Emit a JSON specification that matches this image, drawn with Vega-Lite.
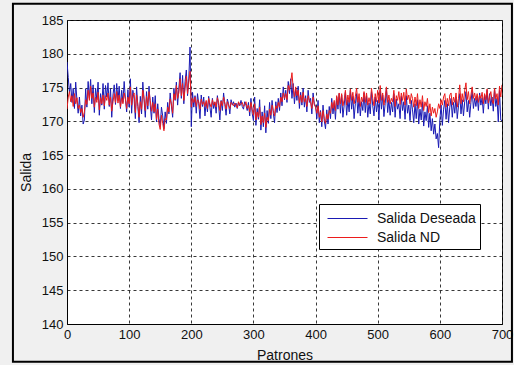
{
  "$schema": "https://vega.github.io/schema/vega-lite/v6.json",
  "width": 435,
  "height": 304,
  "autosize": {"type": "none"},
  "padding": {"left": 67, "top": 20, "right": 12, "bottom": 41},
  "background": "#f0f0f0",
  "config": {
    "font": "Liberation Sans",
    "view": {"fill": "white", "stroke": "black", "strokeWidth": 1},
    "axis": {
      "labelFont": "Liberation Sans",
      "titleFont": "Liberation Sans",
      "labelFontSize": 13,
      "titleFontSize": 14,
      "titleFontWeight": "normal",
      "labelColor": "#111",
      "titleColor": "#111",
      "domainColor": "black",
      "ticks": false,
      "labelFlush": false,
      "labelOverlap": false,
      "gridColor": "#222",
      "gridDash": [3, 3],
      "gridOpacity": 0.9,
      "gridWidth": 1
    }
  },
  "datasets": {
    "series": [
{"p":0,"Salida Deseada":178.8,"Salida ND":171.8},{"p":2,"Salida Deseada":176.5,"Salida ND":173.6},{"p":4,"Salida Deseada":174.2,"Salida ND":174.4},{"p":6,"Salida Deseada":175.6,"Salida ND":172.9},{"p":8,"Salida Deseada":172.8,"Salida ND":173.8},{"p":10,"Salida Deseada":174.9,"Salida ND":172.2},{"p":12,"Salida Deseada":171.9,"Salida ND":174.1},{"p":14,"Salida Deseada":175.8,"Salida ND":172.6},{"p":16,"Salida Deseada":173.1,"Salida ND":173.5},{"p":18,"Salida Deseada":171.2,"Salida ND":171.9},
{"p":20,"Salida Deseada":173.6,"Salida ND":172.4},{"p":22,"Salida Deseada":170.8,"Salida ND":171.3},{"p":24,"Salida Deseada":172.4,"Salida ND":171.9},{"p":26,"Salida Deseada":169.6,"Salida ND":170.6},{"p":28,"Salida Deseada":170.2,"Salida ND":171.4},{"p":30,"Salida Deseada":174.8,"Salida ND":173.2},{"p":32,"Salida Deseada":172.1,"Salida ND":172.5},{"p":34,"Salida Deseada":175.9,"Salida ND":174.6},{"p":36,"Salida Deseada":173.4,"Salida ND":173.1},{"p":38,"Salida Deseada":176.2,"Salida ND":175.2},
{"p":40,"Salida Deseada":172.6,"Salida ND":173.4},{"p":42,"Salida Deseada":175.4,"Salida ND":174.2},{"p":44,"Salida Deseada":171.3,"Salida ND":172.1},{"p":46,"Salida Deseada":174.9,"Salida ND":173.6},{"p":48,"Salida Deseada":173.2,"Salida ND":172.8},{"p":50,"Salida Deseada":175.8,"Salida ND":174.3},{"p":52,"Salida Deseada":170.9,"Salida ND":171.7},{"p":54,"Salida Deseada":174.1,"Salida ND":173.5},{"p":56,"Salida Deseada":172.4,"Salida ND":172.6},{"p":58,"Salida Deseada":175.6,"Salida ND":173.9},
{"p":60,"Salida Deseada":171.8,"Salida ND":172.3},{"p":62,"Salida Deseada":175.3,"Salida ND":173.8},{"p":64,"Salida Deseada":173.6,"Salida ND":173.1},{"p":66,"Salida Deseada":175.7,"Salida ND":174.2},{"p":68,"Salida Deseada":172.2,"Salida ND":172.4},{"p":70,"Salida Deseada":174.8,"Salida ND":173.6},{"p":72,"Salida Deseada":170.6,"Salida ND":171.5},{"p":74,"Salida Deseada":173.9,"Salida ND":172.9},{"p":76,"Salida Deseada":175.4,"Salida ND":174.1},{"p":78,"Salida Deseada":172.5,"Salida ND":172.8},
{"p":80,"Salida Deseada":175.6,"Salida ND":174.4},{"p":82,"Salida Deseada":173.1,"Salida ND":172.7},{"p":84,"Salida Deseada":175.2,"Salida ND":173.9},{"p":86,"Salida Deseada":171.9,"Salida ND":172.1},{"p":88,"Salida Deseada":174.6,"Salida ND":173.5},{"p":90,"Salida Deseada":172.8,"Salida ND":172.6},{"p":92,"Salida Deseada":175.9,"Salida ND":174.2},{"p":94,"Salida Deseada":173.3,"Salida ND":173.3},{"p":96,"Salida Deseada":171.4,"Salida ND":171.9},{"p":98,"Salida Deseada":174.7,"Salida ND":173.6},
{"p":100,"Salida Deseada":172.1,"Salida ND":172.6},{"p":102,"Salida Deseada":176.3,"Salida ND":175.1},{"p":104,"Salida Deseada":171.2,"Salida ND":172.4},{"p":106,"Salida Deseada":174.6,"Salida ND":173.8},{"p":108,"Salida Deseada":173.3,"Salida ND":174.2},{"p":110,"Salida Deseada":170.4,"Salida ND":171.3},{"p":112,"Salida Deseada":175.1,"Salida ND":173.9},{"p":114,"Salida Deseada":172.2,"Salida ND":172.5},{"p":116,"Salida Deseada":169.8,"Salida ND":170.6},{"p":118,"Salida Deseada":173.7,"Salida ND":172.9},
{"p":120,"Salida Deseada":171.1,"Salida ND":171.8},{"p":122,"Salida Deseada":175.8,"Salida ND":174.6},{"p":124,"Salida Deseada":173.2,"Salida ND":173.4},{"p":126,"Salida Deseada":170.6,"Salida ND":171.6},{"p":128,"Salida Deseada":174.4,"Salida ND":173.7},{"p":130,"Salida Deseada":171.8,"Salida ND":172.3},{"p":132,"Salida Deseada":175.2,"Salida ND":174.4},{"p":134,"Salida Deseada":172.4,"Salida ND":173.1},{"p":136,"Salida Deseada":170.2,"Salida ND":171.5},{"p":138,"Salida Deseada":173.6,"Salida ND":172.8},
{"p":140,"Salida Deseada":171.2,"Salida ND":171.4},{"p":142,"Salida Deseada":173.8,"Salida ND":172.6},{"p":144,"Salida Deseada":169.9,"Salida ND":170.3},{"p":146,"Salida Deseada":172.6,"Salida ND":171.8},{"p":148,"Salida Deseada":170.4,"Salida ND":169.6},{"p":150,"Salida Deseada":169.3,"Salida ND":168.8},{"p":152,"Salida Deseada":172.1,"Salida ND":170.9},{"p":154,"Salida Deseada":170.8,"Salida ND":169.7},{"p":156,"Salida Deseada":168.9,"Salida ND":168.6},{"p":158,"Salida Deseada":171.4,"Salida ND":170.4},
{"p":160,"Salida Deseada":169.7,"Salida ND":170.2},{"p":162,"Salida Deseada":172.8,"Salida ND":172.1},{"p":164,"Salida Deseada":171.1,"Salida ND":171.4},{"p":166,"Salida Deseada":174.2,"Salida ND":173.3},{"p":168,"Salida Deseada":172.3,"Salida ND":172.6},{"p":170,"Salida Deseada":170.6,"Salida ND":171.2},{"p":172,"Salida Deseada":174.9,"Salida ND":174.1},{"p":174,"Salida Deseada":173.1,"Salida ND":173.2},{"p":176,"Salida Deseada":175.8,"Salida ND":175.3},{"p":178,"Salida Deseada":172.4,"Salida ND":173.4},
{"p":180,"Salida Deseada":174.9,"Salida ND":174.2},{"p":182,"Salida Deseada":177.2,"Salida ND":176.3},{"p":184,"Salida Deseada":173.4,"Salida ND":173.8},{"p":186,"Salida Deseada":176.8,"Salida ND":175.6},{"p":188,"Salida Deseada":172.6,"Salida ND":173.1},{"p":190,"Salida Deseada":175.9,"Salida ND":174.8},{"p":192,"Salida Deseada":177.6,"Salida ND":176.7},{"p":194,"Salida Deseada":173.8,"Salida ND":174.1},{"p":196,"Salida Deseada":176.4,"Salida ND":175.8},{"p":198,"Salida Deseada":181.0,"Salida ND":177.4},
{"p":200,"Salida Deseada":169.2,"Salida ND":172.1},{"p":202,"Salida Deseada":174.3,"Salida ND":173.4},{"p":204,"Salida Deseada":172.1,"Salida ND":172.8},{"p":206,"Salida Deseada":173.8,"Salida ND":173.6},{"p":208,"Salida Deseada":171.2,"Salida ND":172.2},{"p":210,"Salida Deseada":174.1,"Salida ND":173.2},{"p":212,"Salida Deseada":172.6,"Salida ND":172.9},{"p":214,"Salida Deseada":170.4,"Salida ND":171.8},{"p":216,"Salida Deseada":173.9,"Salida ND":173.3},{"p":218,"Salida Deseada":172.2,"Salida ND":172.5},
{"p":220,"Salida Deseada":173.6,"Salida ND":172.9},{"p":222,"Salida Deseada":170.8,"Salida ND":172.2},{"p":224,"Salida Deseada":172.9,"Salida ND":173.1},{"p":226,"Salida Deseada":171.4,"Salida ND":171.9},{"p":228,"Salida Deseada":173.7,"Salida ND":173.4},{"p":230,"Salida Deseada":172.1,"Salida ND":172.6},{"p":232,"Salida Deseada":170.6,"Salida ND":172.1},{"p":234,"Salida Deseada":173.4,"Salida ND":173.2},{"p":236,"Salida Deseada":171.9,"Salida ND":172.4},{"p":238,"Salida Deseada":172.8,"Salida ND":172.9},
{"p":240,"Salida Deseada":171.2,"Salida ND":172.1},{"p":242,"Salida Deseada":173.8,"Salida ND":173.5},{"p":244,"Salida Deseada":172.3,"Salida ND":172.8},{"p":246,"Salida Deseada":170.2,"Salida ND":171.6},{"p":248,"Salida Deseada":173.1,"Salida ND":173.0},{"p":250,"Salida Deseada":171.6,"Salida ND":172.3},{"p":252,"Salida Deseada":174.2,"Salida ND":173.6},{"p":254,"Salida Deseada":172.5,"Salida ND":172.7},{"p":256,"Salida Deseada":170.9,"Salida ND":171.8},{"p":258,"Salida Deseada":173.3,"Salida ND":172.9},
{"p":260,"Salida Deseada":172.6,"Salida ND":172.4},{"p":262,"Salida Deseada":171.1,"Salida ND":171.9},{"p":264,"Salida Deseada":173.2,"Salida ND":172.8},{"p":266,"Salida Deseada":172.4,"Salida ND":172.6},{"p":268,"Salida Deseada":172.9,"Salida ND":172.3},{"p":270,"Salida Deseada":172.1,"Salida ND":172.7},{"p":272,"Salida Deseada":172.7,"Salida ND":172.5},{"p":274,"Salida Deseada":171.9,"Salida ND":172.0},{"p":276,"Salida Deseada":172.8,"Salida ND":172.9},{"p":278,"Salida Deseada":172.3,"Salida ND":172.4},
{"p":280,"Salida Deseada":173.1,"Salida ND":172.6},{"p":282,"Salida Deseada":172.2,"Salida ND":172.8},{"p":284,"Salida Deseada":171.8,"Salida ND":172.2},{"p":286,"Salida Deseada":172.9,"Salida ND":172.5},{"p":288,"Salida Deseada":172.4,"Salida ND":172.9},{"p":290,"Salida Deseada":171.6,"Salida ND":171.9},{"p":292,"Salida Deseada":172.8,"Salida ND":172.4},{"p":294,"Salida Deseada":170.8,"Salida ND":171.4},{"p":296,"Salida Deseada":173.4,"Salida ND":172.8},{"p":298,"Salida Deseada":171.2,"Salida ND":171.8},
{"p":300,"Salida Deseada":170.1,"Salida ND":170.9},{"p":302,"Salida Deseada":173.6,"Salida ND":172.6},{"p":304,"Salida Deseada":169.4,"Salida ND":170.2},{"p":306,"Salida Deseada":171.9,"Salida ND":171.4},{"p":308,"Salida Deseada":170.3,"Salida ND":170.6},{"p":310,"Salida Deseada":173.2,"Salida ND":172.1},{"p":312,"Salida Deseada":168.7,"Salida ND":169.5},{"p":314,"Salida Deseada":171.4,"Salida ND":170.8},{"p":316,"Salida Deseada":169.2,"Salida ND":169.8},{"p":318,"Salida Deseada":172.3,"Salida ND":171.2},
{"p":320,"Salida Deseada":168.3,"Salida ND":169.1},{"p":322,"Salida Deseada":171.6,"Salida ND":170.6},{"p":324,"Salida Deseada":169.7,"Salida ND":170.1},{"p":326,"Salida Deseada":172.8,"Salida ND":171.8},{"p":328,"Salida Deseada":170.4,"Salida ND":170.9},{"p":330,"Salida Deseada":173.1,"Salida ND":172.4},{"p":332,"Salida Deseada":171.2,"Salida ND":171.6},{"p":334,"Salida Deseada":169.8,"Salida ND":170.8},{"p":336,"Salida Deseada":172.9,"Salida ND":172.3},{"p":338,"Salida Deseada":171.3,"Salida ND":171.9},
{"p":340,"Salida Deseada":173.4,"Salida ND":172.8},{"p":342,"Salida Deseada":171.6,"Salida ND":172.1},{"p":344,"Salida Deseada":174.2,"Salida ND":173.6},{"p":346,"Salida Deseada":172.3,"Salida ND":172.9},{"p":348,"Salida Deseada":175.1,"Salida ND":174.2},{"p":350,"Salida Deseada":173.2,"Salida ND":173.4},{"p":352,"Salida Deseada":174.6,"Salida ND":174.1},{"p":354,"Salida Deseada":172.8,"Salida ND":173.2},{"p":356,"Salida Deseada":175.9,"Salida ND":175.3},{"p":358,"Salida Deseada":174.1,"Salida ND":174.6},
{"p":360,"Salida Deseada":176.3,"Salida ND":175.8},{"p":362,"Salida Deseada":173.4,"Salida ND":177.2},{"p":364,"Salida Deseada":175.6,"Salida ND":174.9},{"p":366,"Salida Deseada":172.6,"Salida ND":173.6},{"p":368,"Salida Deseada":174.8,"Salida ND":175.1},{"p":370,"Salida Deseada":173.1,"Salida ND":173.8},{"p":372,"Salida Deseada":175.2,"Salida ND":174.6},{"p":374,"Salida Deseada":171.9,"Salida ND":172.7},{"p":376,"Salida Deseada":174.3,"Salida ND":173.9},{"p":378,"Salida Deseada":172.4,"Salida ND":172.8},
{"p":380,"Salida Deseada":174.9,"Salida ND":174.3},{"p":382,"Salida Deseada":172.1,"Salida ND":172.9},{"p":384,"Salida Deseada":173.8,"Salida ND":173.4},{"p":386,"Salida Deseada":171.4,"Salida ND":172.2},{"p":388,"Salida Deseada":174.6,"Salida ND":173.8},{"p":390,"Salida Deseada":172.8,"Salida ND":173.1},{"p":392,"Salida Deseada":173.4,"Salida ND":172.8},{"p":394,"Salida Deseada":171.1,"Salida ND":171.9},{"p":396,"Salida Deseada":174.2,"Salida ND":173.6},{"p":398,"Salida Deseada":172.6,"Salida ND":172.4},
{"p":400,"Salida Deseada":172.3,"Salida ND":172.1},{"p":402,"Salida Deseada":170.4,"Salida ND":171.2},{"p":404,"Salida Deseada":173.1,"Salida ND":172.3},{"p":406,"Salida Deseada":169.8,"Salida ND":170.6},{"p":408,"Salida Deseada":171.6,"Salida ND":171.4},{"p":410,"Salida Deseada":169.2,"Salida ND":169.9},{"p":412,"Salida Deseada":172.4,"Salida ND":171.6},{"p":414,"Salida Deseada":170.1,"Salida ND":170.4},{"p":416,"Salida Deseada":168.9,"Salida ND":169.7},{"p":418,"Salida Deseada":171.7,"Salida ND":171.1},
{"p":420,"Salida Deseada":169.6,"Salida ND":170.3},{"p":422,"Salida Deseada":172.2,"Salida ND":171.6},{"p":424,"Salida Deseada":170.4,"Salida ND":171.2},{"p":426,"Salida Deseada":173.4,"Salida ND":172.8},{"p":428,"Salida Deseada":171.1,"Salida ND":171.9},{"p":430,"Salida Deseada":172.8,"Salida ND":173.1},{"p":432,"Salida Deseada":170.3,"Salida ND":171.6},{"p":434,"Salida Deseada":173.6,"Salida ND":173.8},{"p":436,"Salida Deseada":171.8,"Salida ND":172.4},{"p":438,"Salida Deseada":174.1,"Salida ND":174.2},
{"p":440,"Salida Deseada":171.2,"Salida ND":172.6},{"p":442,"Salida Deseada":173.9,"Salida ND":174.1},{"p":444,"Salida Deseada":170.6,"Salida ND":172.3},{"p":446,"Salida Deseada":172.4,"Salida ND":173.2},{"p":448,"Salida Deseada":174.3,"Salida ND":174.6},{"p":450,"Salida Deseada":170.9,"Salida ND":172.4},{"p":452,"Salida Deseada":173.2,"Salida ND":173.9},{"p":454,"Salida Deseada":171.4,"Salida ND":172.8},{"p":456,"Salida Deseada":174.6,"Salida ND":174.8},{"p":458,"Salida Deseada":171.8,"Salida ND":173.1},
{"p":460,"Salida Deseada":173.7,"Salida ND":174.3},{"p":462,"Salida Deseada":170.4,"Salida ND":172.6},{"p":464,"Salida Deseada":172.6,"Salida ND":173.7},{"p":466,"Salida Deseada":174.1,"Salida ND":174.9},{"p":468,"Salida Deseada":171.2,"Salida ND":172.8},{"p":470,"Salida Deseada":173.4,"Salida ND":174.1},{"p":472,"Salida Deseada":170.8,"Salida ND":172.2},{"p":474,"Salida Deseada":172.9,"Salida ND":173.6},{"p":476,"Salida Deseada":171.6,"Salida ND":172.9},{"p":478,"Salida Deseada":174.2,"Salida ND":174.4},
{"p":480,"Salida Deseada":171.3,"Salida ND":172.8},{"p":482,"Salida Deseada":173.8,"Salida ND":174.2},{"p":484,"Salida Deseada":170.6,"Salida ND":172.4},{"p":486,"Salida Deseada":172.7,"Salida ND":173.5},{"p":488,"Salida Deseada":171.1,"Salida ND":172.6},{"p":490,"Salida Deseada":174.4,"Salida ND":174.9},{"p":492,"Salida Deseada":172.3,"Salida ND":173.4},{"p":494,"Salida Deseada":170.8,"Salida ND":172.3},{"p":496,"Salida Deseada":173.6,"Salida ND":174.1},{"p":498,"Salida Deseada":171.4,"Salida ND":172.9},
{"p":500,"Salida Deseada":173.1,"Salida ND":174.6},{"p":502,"Salida Deseada":170.2,"Salida ND":172.7},{"p":504,"Salida Deseada":174.6,"Salida ND":175.3},{"p":506,"Salida Deseada":171.8,"Salida ND":173.1},{"p":508,"Salida Deseada":173.9,"Salida ND":174.2},{"p":510,"Salida Deseada":170.7,"Salida ND":172.4},{"p":512,"Salida Deseada":172.6,"Salida ND":173.6},{"p":514,"Salida Deseada":174.8,"Salida ND":175.1},{"p":516,"Salida Deseada":171.3,"Salida ND":172.8},{"p":518,"Salida Deseada":173.2,"Salida ND":173.9},
{"p":520,"Salida Deseada":170.9,"Salida ND":172.6},{"p":522,"Salida Deseada":172.8,"Salida ND":173.4},{"p":524,"Salida Deseada":171.4,"Salida ND":172.9},{"p":526,"Salida Deseada":174.1,"Salida ND":174.6},{"p":528,"Salida Deseada":170.6,"Salida ND":172.2},{"p":530,"Salida Deseada":173.3,"Salida ND":173.8},{"p":532,"Salida Deseada":171.8,"Salida ND":173.1},{"p":534,"Salida Deseada":172.6,"Salida ND":174.4},{"p":536,"Salida Deseada":170.4,"Salida ND":172.5},{"p":538,"Salida Deseada":173.7,"Salida ND":174.2},
{"p":540,"Salida Deseada":171.6,"Salida ND":173.1},{"p":542,"Salida Deseada":172.9,"Salida ND":174.3},{"p":544,"Salida Deseada":170.3,"Salida ND":172.4},{"p":546,"Salida Deseada":173.8,"Salida ND":174.8},{"p":548,"Salida Deseada":171.2,"Salida ND":173.2},{"p":550,"Salida Deseada":172.4,"Salida ND":173.9},{"p":552,"Salida Deseada":170.1,"Salida ND":172.6},{"p":554,"Salida Deseada":173.1,"Salida ND":174.1},{"p":556,"Salida Deseada":171.7,"Salida ND":173.4},{"p":558,"Salida Deseada":169.8,"Salida ND":172.1},
{"p":560,"Salida Deseada":172.6,"Salida ND":173.6},{"p":562,"Salida Deseada":170.4,"Salida ND":172.3},{"p":564,"Salida Deseada":173.2,"Salida ND":174.1},{"p":566,"Salida Deseada":169.6,"Salida ND":171.9},{"p":568,"Salida Deseada":171.8,"Salida ND":173.2},{"p":570,"Salida Deseada":170.2,"Salida ND":172.1},{"p":572,"Salida Deseada":172.9,"Salida ND":173.8},{"p":574,"Salida Deseada":169.3,"Salida ND":171.6},{"p":576,"Salida Deseada":171.4,"Salida ND":172.9},{"p":578,"Salida Deseada":170.1,"Salida ND":172.2},
{"p":580,"Salida Deseada":172.3,"Salida ND":173.4},{"p":582,"Salida Deseada":169.1,"Salida ND":171.3},{"p":584,"Salida Deseada":171.2,"Salida ND":172.6},{"p":586,"Salida Deseada":168.6,"Salida ND":170.8},{"p":588,"Salida Deseada":170.4,"Salida ND":172.1},{"p":590,"Salida Deseada":168.1,"Salida ND":171.2},{"p":592,"Salida Deseada":169.6,"Salida ND":171.9},{"p":594,"Salida Deseada":167.4,"Salida ND":170.6},{"p":596,"Salida Deseada":168.2,"Salida ND":171.4},{"p":598,"Salida Deseada":166.1,"Salida ND":172.6},
{"p":600,"Salida Deseada":170.2,"Salida ND":171.9},{"p":602,"Salida Deseada":172.4,"Salida ND":173.2},{"p":604,"Salida Deseada":169.4,"Salida ND":172.4},{"p":606,"Salida Deseada":171.8,"Salida ND":173.6},{"p":608,"Salida Deseada":173.1,"Salida ND":174.1},{"p":610,"Salida Deseada":170.3,"Salida ND":172.1},{"p":612,"Salida Deseada":172.6,"Salida ND":173.4},{"p":614,"Salida Deseada":169.8,"Salida ND":172.3},{"p":616,"Salida Deseada":172.1,"Salida ND":173.9},{"p":618,"Salida Deseada":173.4,"Salida ND":174.2},
{"p":620,"Salida Deseada":170.6,"Salida ND":172.4},{"p":622,"Salida Deseada":172.8,"Salida ND":173.6},{"p":624,"Salida Deseada":171.2,"Salida ND":172.8},{"p":626,"Salida Deseada":173.6,"Salida ND":174.2},{"p":628,"Salida Deseada":170.4,"Salida ND":172.1},{"p":630,"Salida Deseada":172.3,"Salida ND":173.4},{"p":632,"Salida Deseada":174.1,"Salida ND":175.4},{"p":634,"Salida Deseada":171.1,"Salida ND":172.6},{"p":636,"Salida Deseada":173.2,"Salida ND":174.1},{"p":638,"Salida Deseada":170.8,"Salida ND":172.9},
{"p":640,"Salida Deseada":172.9,"Salida ND":174.6},{"p":642,"Salida Deseada":174.4,"Salida ND":175.7},{"p":644,"Salida Deseada":171.4,"Salida ND":173.2},{"p":646,"Salida Deseada":173.1,"Salida ND":174.4},{"p":648,"Salida Deseada":170.6,"Salida ND":172.6},{"p":650,"Salida Deseada":172.8,"Salida ND":173.9},{"p":652,"Salida Deseada":174.6,"Salida ND":175.1},{"p":654,"Salida Deseada":171.9,"Salida ND":173.4},{"p":656,"Salida Deseada":173.4,"Salida ND":174.2},{"p":658,"Salida Deseada":172.2,"Salida ND":173.1},
{"p":660,"Salida Deseada":173.8,"Salida ND":174.1},{"p":662,"Salida Deseada":171.6,"Salida ND":172.8},{"p":664,"Salida Deseada":174.2,"Salida ND":173.9},{"p":666,"Salida Deseada":172.4,"Salida ND":173.4},{"p":668,"Salida Deseada":173.5,"Salida ND":174.3},{"p":670,"Salida Deseada":171.2,"Salida ND":172.6},{"p":672,"Salida Deseada":173.9,"Salida ND":174.1},{"p":674,"Salida Deseada":172.6,"Salida ND":173.2},{"p":676,"Salida Deseada":174.6,"Salida ND":174.8},{"p":678,"Salida Deseada":171.8,"Salida ND":172.7},
{"p":680,"Salida Deseada":174.1,"Salida ND":173.6},{"p":682,"Salida Deseada":172.3,"Salida ND":174.4},{"p":684,"Salida Deseada":173.6,"Salida ND":173.1},{"p":686,"Salida Deseada":171.5,"Salida ND":172.6},{"p":688,"Salida Deseada":174.8,"Salida ND":174.9},{"p":690,"Salida Deseada":172.2,"Salida ND":173.3},{"p":692,"Salida Deseada":173.4,"Salida ND":174.1},{"p":694,"Salida Deseada":169.9,"Salida ND":172.4},{"p":696,"Salida Deseada":174.6,"Salida ND":175.2},{"p":698,"Salida Deseada":170.2,"Salida ND":173.6},
{"p":700,"Salida Deseada":170.1,"Salida ND":175.4}
    ]
  },
  "layer": [
    {
      "data": {"name": "series"},
      "transform": [{"fold": ["Salida Deseada", "Salida ND"], "as": ["serie", "valor"]}],
      "mark": {"type": "line", "strokeWidth": 1, "clip": true},
      "encoding": {
        "x": {
          "field": "p", "type": "quantitative",
          "scale": {"domain": [0, 700], "nice": false, "zero": false},
          "axis": {"values": [0, 100, 200, 300, 400, 500, 600, 700], "tickCount": 8, "title": "Patrones", "labelPadding": 4, "titlePadding": 7, "grid": true}
        },
        "y": {
          "field": "valor", "type": "quantitative",
          "scale": {"domain": [140, 185], "nice": false, "zero": false},
          "axis": {"values": [140, 145, 150, 155, 160, 165, 170, 175, 180, 185], "tickCount": 10, "title": "Salida", "labelPadding": 4, "titlePadding": 8, "grid": true}
        },
        "color": {
          "field": "serie", "type": "nominal",
          "scale": {"domain": ["Salida Deseada", "Salida ND"], "range": ["#1a1ab4", "#ec1c1c"]},
          "legend": {
            "title": null,
            "orient": "none",
            "legendX": 252,
            "legendY": 184,
            "symbolType": "M-0.6,0H3.4",
            "symbolSize": 400,
            "symbolStrokeWidth": 1,
            "labelFont": "Liberation Sans",
            "labelFontSize": 14,
            "labelColor": "#111",
            "labelOffset": 33,
            "rowPadding": 1,
            "padding": 4,
            "strokeColor": "black",
            "fillColor": "white"
          }
        }
      }
    },
    {
      "data": {"values": [{}]},
      "mark": {"type": "rect", "fill": null, "stroke": "black", "strokeWidth": 2, "clip": false},
      "encoding": {
        "x": {"datum": -87},
        "x2": {"datum": 716},
        "y": {"datum": 187.4},
        "y2": {"datum": 134.4}
      }
    }
  ]
}
